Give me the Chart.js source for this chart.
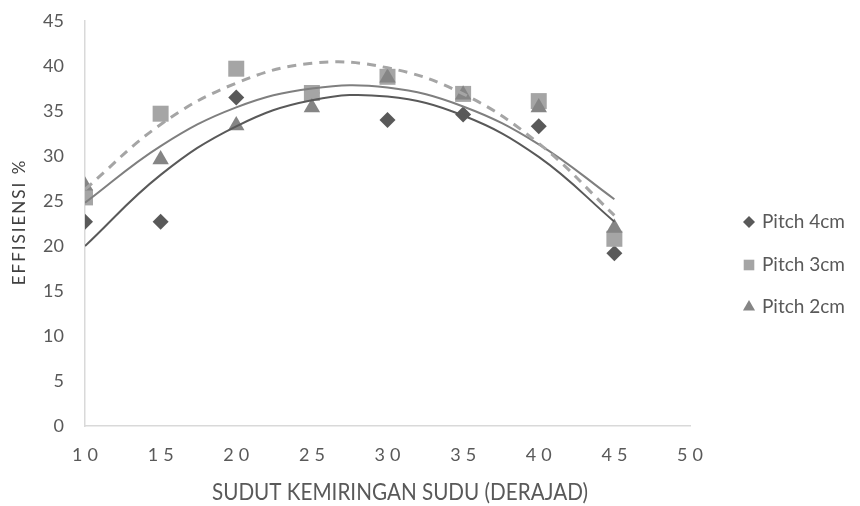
<!DOCTYPE html>
<html>
<head>
<meta charset="utf-8">
<script src="https://cdn.jsdelivr.net/npm/chart.js@4/dist/chart.umd.min.js"></script>
<style>
  html, body { margin: 0; padding: 0; background: #ffffff; }
  #wrap { width: 860px; height: 506px; }
</style>
</head>
<body>
<div id="wrap"><canvas id="chart" width="860" height="506"></canvas></div>
<script>
// Blade angle (degrees) and measured efficiency (%) for each pitch
const angles = [10, 15, 20, 25, 30, 35, 40, 45];
const pitch4 = [22.7, 22.7, 36.5, 37.0, 34.0, 34.6, 33.3, 19.2];
const pitch3 = [25.4, 34.7, 39.7, 37.0, 38.8, 36.9, 36.1, 20.8];
const pitch2 = [26.7, 29.6, 33.4, 35.4, 38.7, 36.8, 35.4, 22.0];

// Polynomial trend curves, sampled at the same angles
const trend4 = [20.0, 27.9, 33.3, 36.2, 36.6, 34.5, 29.9, 22.7];
const trend3 = [26.3, 33.5, 38.1, 40.3, 39.8, 36.9, 31.4, 23.4];
const trend2 = [24.8, 31.1, 35.4, 37.5, 37.6, 35.5, 31.3, 25.2];

const seriesNames = ['Pitch 4cm', 'Pitch 3cm', 'Pitch 2cm'];
const xTicks = [10, 15, 20, 25, 30, 35, 40, 45, 50];
const yTicks = [0, 5, 10, 15, 20, 25, 30, 35, 40, 45];
const xTitle = 'SUDUT KEMIRINGAN SUDU (DERAJAD)';
const yTitle = 'EFFISIENSI %';

const pts = (ys) => angles.map((x, i) => ({ x: x, y: ys[i] }));

const TEXT = '#595959';
const FONT = 'Lato, "Open Sans", sans-serif';

// Spaced-out x tick labels, axis titles and the legend
const axisText = {
  id: 'axisText',
  afterDraw(chart) {
    const ctx = chart.ctx;
    const xs = chart.scales.x;

    ctx.save();
    ctx.fillStyle = TEXT;
    ctx.font = '18px ' + FONT;
    ctx.textAlign = 'center';
    ctx.textBaseline = 'middle';
    ctx.letterSpacing = '5px';
    xTicks.forEach(v => {
      ctx.fillText(String(v), xs.getPixelForValue(v) + 2.5, 455);
    });
    ctx.restore();

    // narrow, tall x-axis title
    ctx.save();
    ctx.fillStyle = TEXT;
    ctx.font = '24px ' + FONT;
    ctx.textAlign = 'center';
    ctx.textBaseline = 'middle';
    const w = ctx.measureText(xTitle).width;
    ctx.translate(400, 492);
    ctx.scale(376 / w, 1);
    ctx.fillText(xTitle, 0, 0);
    ctx.restore();

    ctx.save();
    ctx.fillStyle = '#404040';
    ctx.font = '17px ' + FONT;
    ctx.letterSpacing = '2px';
    ctx.textAlign = 'center';
    ctx.textBaseline = 'middle';
    ctx.translate(20, 223);
    ctx.rotate(-Math.PI / 2);
    ctx.fillText(yTitle, 1, 0);
    ctx.restore();

    // legend, using each series' own marker style
    const rows = [222, 265, 307];
    ctx.save();
    seriesNames.forEach((name, i) => {
      const ds = chart.data.datasets[i];
      ctx.fillStyle = ds.backgroundColor;
      ctx.strokeStyle = ds.backgroundColor;
      ctx.lineWidth = 0;
      Chart.helpers.drawPoint(ctx, {
        pointStyle: ds.pointStyle,
        radius: ds.legendRadius,
        borderWidth: 0,
        rotation: 0
      }, 749, rows[i]);
      ctx.fillStyle = TEXT;
      ctx.font = '19px ' + FONT;
      ctx.textAlign = 'left';
      ctx.textBaseline = 'middle';
      ctx.fillText(name, 762, rows[i]);
    });
    ctx.restore();
  }
};

const trendStyle = (data, color, width, dash) => ({
  type: 'line',
  data: pts(data),
  borderColor: color,
  borderWidth: width,
  borderDash: dash,
  pointRadius: 0,
  fill: false,
  tension: 0.4,
  order: 0
});

new Chart(document.getElementById('chart'), {
  type: 'scatter',
  data: {
    datasets: [
      {
        label: seriesNames[0], data: pts(pitch4),
        pointStyle: 'rectRot', pointRadius: 8, legendRadius: 6,
        backgroundColor: '#595959', borderWidth: 0, order: 3
      },
      {
        label: seriesNames[1], data: pts(pitch3),
        pointStyle: 'rect', pointRadius: 11.3, legendRadius: 7.5,
        backgroundColor: '#a5a5a5', borderWidth: 0, order: 2
      },
      {
        label: seriesNames[2], data: pts(pitch2),
        pointStyle: 'triangle', pointRadius: 9.5, legendRadius: 7,
        backgroundColor: '#858585', borderWidth: 0, order: 1
      },
      trendStyle(trend4, '#595959', 2, []),
      trendStyle(trend3, '#a5a5a5', 3, [9, 7]),
      trendStyle(trend2, '#7f7f7f', 2, [])
    ]
  },
  options: {
    responsive: false,
    animation: false,
    devicePixelRatio: 1,
    layout: { autoPadding: false, padding: { top: 21, right: 170, left: 0, bottom: 0 } },
    plugins: {
      legend: { display: false },
      tooltip: { enabled: false }
    },
    elements: { point: { hoverRadius: 0 } },
    scales: {
      x: {
        type: 'linear', min: 10, max: 50,
        afterBuildTicks: (s) => { s.ticks = xTicks.map(v => ({ value: v })); },
        afterFit: (s) => { s.height = 80; },
        grid: { display: false, drawTicks: false },
        border: { display: true, color: '#d9d9d9', width: 1.5 },
        ticks: { display: false }
      },
      y: {
        min: 0, max: 45,
        afterBuildTicks: (s) => { s.ticks = yTicks.map(v => ({ value: v })); },
        afterFit: (s) => {
          s.width = 85;
          s.paddingTop = 0;
          s.paddingBottom = 0;
        },
        grid: { display: false, drawTicks: false },
        border: { display: true, color: '#d9d9d9', width: 1.5 },
        ticks: { color: TEXT, font: { family: FONT, size: 18 }, padding: 21 }
      }
    }
  },
  plugins: [axisText]
});
</script>
</body>
</html>
